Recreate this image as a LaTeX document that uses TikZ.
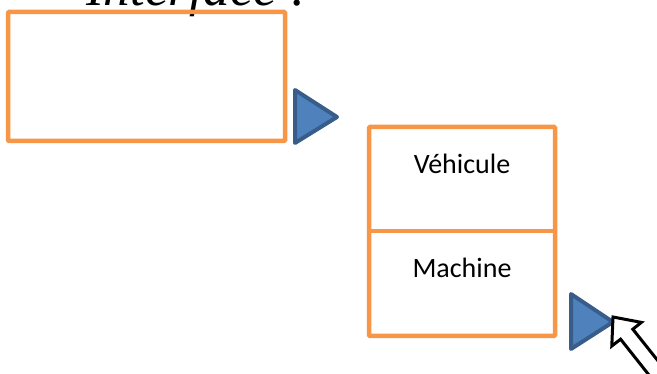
\documentclass[tikz,border=0pt]{standalone}
\usepackage{fontspec}
\setmainfont{Carlito}
\newfontfamily\titlefont{Liberation Serif}
\usetikzlibrary{positioning}
\definecolor{boxorange}{HTML}{F79646}
\definecolor{playfill}{HTML}{4F81BD}
\definecolor{playline}{HTML}{385D8A}
\tikzset{
  umlbox/.style={draw=boxorange, line width=4.5pt, rounded corners=1pt, inner sep=0pt},
  playbtn/.style={fill=playfill, draw=playline, line width=4pt, line join=round},
  celltext/.style={font=\fontsize{28}{32}\selectfont, anchor=base},
}
\begin{document}
\begin{tikzpicture}[x=1pt, y=-1pt]
\useasboundingbox (0,0) rectangle (657,374);
\clip (0,0) rectangle (657,374);

\node[anchor=base west, inner sep=0pt, font=\titlefont\itshape\fontsize{53}{60}\selectfont]
  (title) at (86,6) {Interface :};

\node[umlbox, minimum width=277pt, minimum height=129pt] (iface) at (146.5,76.5) {};
\draw[playbtn] (295,90) -- (337,117) -- (295,143) -- cycle;

\node[umlbox, minimum width=186pt, minimum height=209pt] (classe) at (462,231.5) {};
\draw[boxorange, line width=4.5pt] (classe.west |- 0,231) coordinate (sepw)
  -- (classe.east |- 0,231) coordinate (sepe);
\node[celltext] (tv) at (462,174) {Véhicule};
\node[celltext] (tm) at (462,278) {Machine};
\draw[playbtn] (571,294) -- (613,322) -- (571,349) -- cycle;

% pointeur de souris
\path (613,317) coordinate (tip);
\draw[fill=white, line width=3pt, line join=miter]
     (tip)
  -- (641.4,322.4)
  -- (632.8,329.2)
  -- (668.8,374.4)
  -- (656.4,384.4)
  -- (620.6,339.2)
  -- (611.8,346)
  -- cycle;
\end{tikzpicture}
\end{document}
